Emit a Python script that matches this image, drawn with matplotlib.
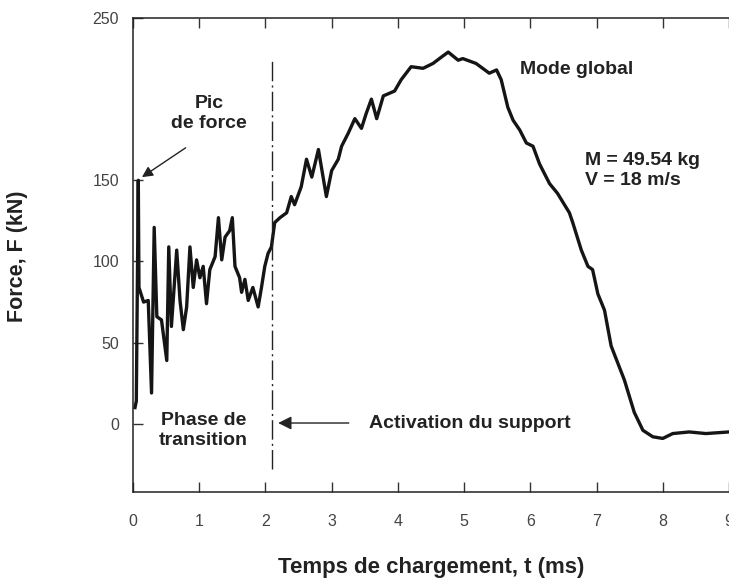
import numpy as np
import matplotlib
matplotlib.use('Agg')
import matplotlib.pyplot as plt

plt.rcParams['font.family'] = ['Liberation Sans', 'DejaVu Sans']

# force curve (t in ms, F in kN)
t_ms = [0.03, 0.05, 0.08, 0.09, 0.16, 0.23, 0.28, 0.32, 0.36, 0.43, 0.51, 0.54,
        0.58, 0.66, 0.71, 0.76, 0.81, 0.86, 0.91, 0.96, 1.01, 1.06, 1.11, 1.16,
        1.24, 1.29, 1.34, 1.39, 1.46, 1.50, 1.54, 1.61, 1.64, 1.69, 1.74, 1.81,
        1.89, 1.94, 1.99, 2.04, 2.09, 2.14, 2.22, 2.32, 2.39, 2.44, 2.54, 2.62,
        2.70, 2.80, 2.92, 3.00, 3.10, 3.15, 3.25, 3.35, 3.45, 3.52, 3.60, 3.68,
        3.78, 3.95, 4.05, 4.20, 4.38, 4.53, 4.66, 4.76, 4.91, 4.98, 5.18, 5.38,
        5.49, 5.56, 5.66, 5.74, 5.84, 5.94, 6.04, 6.14, 6.29, 6.41, 6.59, 6.64,
        6.77, 6.87, 6.94, 7.02, 7.12, 7.22, 7.42, 7.57, 7.70, 7.85, 8.00, 8.15,
        8.40, 8.65, 9.00]
force_kN = [10, 14, 150, 84, 75, 76, 19, 121, 66, 64, 39, 109,
            60, 107, 76, 58, 72, 109, 84, 101, 90, 97, 74, 95,
            103, 127, 101, 115, 119, 127, 97, 90, 81, 89, 76, 84,
            72, 84, 97, 105, 109, 124, 127, 130, 140, 135, 146, 163,
            152, 169, 140, 156, 163, 171, 179, 188, 182, 191, 200, 188,
            202, 205, 212, 220, 219, 222, 226, 229, 224, 225, 222, 216,
            218, 212, 195, 187, 181, 173, 171, 160, 148, 142, 130, 124,
            107, 97, 95, 80, 70, 48, 27, 7, -4, -8, -9, -6,
            -5, -6, -5]

x_ticks = [0, 1, 2, 3, 4, 5, 6, 7, 8, 9]
y_ticks = [0, 50, 100, 150, 250]
t_support = 2.1

fig = plt.figure(figsize=(7.29, 5.79), dpi=100)
ax = fig.add_axes([133/729, 87/579, 596/729, 474/579])

ax.plot(t_ms, force_kN, color='#151515', lw=2.4, solid_joinstyle='round')
ax.plot([t_support, t_support], [-28, 224], color='#222222', lw=1.0,
        linestyle=(0, (14, 3, 1.5, 3)))

ax.set_xlim(0, 9)
ax.set_ylim(-42, 250)
ax.set_xticks(x_ticks)
ax.set_yticks(y_ticks)
ax.tick_params(direction='in', length=7, width=1, color='#333333',
               labelsize=11.5, labelcolor='#444444', top=True)
ax.tick_params(axis='y', pad=10)
ax.tick_params(axis='x', pad=16)
ax.spines['right'].set_visible(False)
for s in ['left', 'top', 'bottom']:
    ax.spines[s].set_linewidth(1.1)
    ax.spines[s].set_color('#222222')

ax.set_xlabel('Temps de chargement, t (ms)', fontsize=16, fontweight='bold',
              color='#222222', labelpad=20)
fig.text(18/729, 1 - 256/579, 'Force, F (kN)', rotation=90, fontsize=15.5,
         fontweight='bold', color='#222222', ha='center', va='center')

bold = dict(fontsize=14, fontweight='bold', color='#222222')
ax.text(1.15, 191, 'Pic\nde force', ha='center', va='center',
        linespacing=1.25, **bold)
ax.annotate('', xy=(0.10, 151), xytext=(0.83, 171),
            arrowprops=dict(arrowstyle='-|>', color='#222222', lw=1.0,
                            mutation_scale=16))
ax.text(1.06, -4, 'Phase de\ntransition', ha='center', va='center',
        linespacing=1.25, **bold)
ax.annotate('', xy=(t_support + 0.05, 0.5), xytext=(3.3, 0.5),
            arrowprops=dict(arrowstyle='-|>', color='#222222', lw=1.0,
                            mutation_scale=20))
ax.text(3.57, 0.5, 'Activation du support', ha='left', va='center', **bold)
ax.text(5.84, 218, 'Mode global', ha='left', va='center', **bold)
ax.text(6.82, 156, 'M = 49.54 kg\nV = 18 m/s', ha='left', va='center',
        linespacing=1.25, **bold)

plt.savefig('out.png', dpi=100)
